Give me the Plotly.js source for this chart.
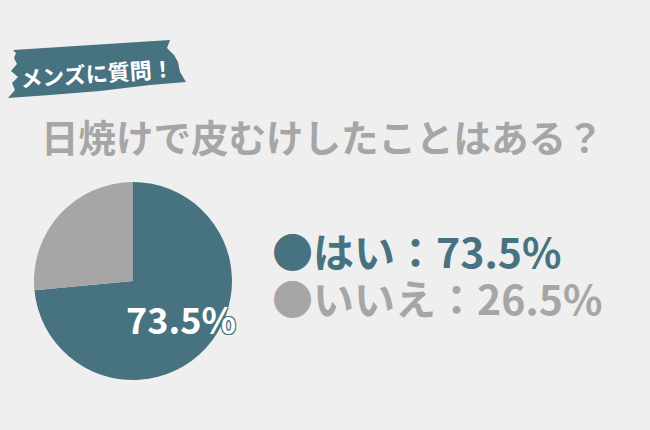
<!DOCTYPE html>
<html>
<head>
<meta charset="utf-8">
<script src="https://cdn.plot.ly/plotly-3.0.1.min.js"></script>
<style>
html,body{margin:0;padding:0;background:#efefef;}
#chart{width:650px;height:430px;}
</style>
</head>
<body>
<div id="chart"></div>
<script>
var labels = ['はい', 'いいえ'];
var values = [73.5, 26.5];
var colors = ['#477381', '#a6a6a6'];
var titleText = '日焼けで皮むけしたことはある？';
var bannerText = 'メンズに質問！';

var FONT = '"Noto Sans CJK JP", "Noto Sans", sans-serif';

function fmt(v) { return v.toFixed(1) + '%'; }

var trace = {
  type: 'pie',
  labels: labels,
  values: values,
  marker: { colors: colors, line: { width: 0 } },
  sort: false,
  direction: 'clockwise',
  rotation: 0,
  textinfo: 'none',
  hoverinfo: 'none',
  showlegend: false,
  domain: { x: [34/650, 232/650], y: [1 - 380/430, 1 - 182/430] }
};

var annotations = [
  {
    xref: 'x', yref: 'y', x: 322, y: 135,
    text: titleText, showarrow: false,
    font: { family: FONT, size: 37.5, color: '#a6a6a6', weight: 700 }
  },
  {
    xref: 'x', yref: 'y', x: 97, y: 72,
    text: bannerText, showarrow: false, textangle: -4,
    font: { family: FONT, size: 22, color: '#ffffff', weight: 700 }
  },
  {
    xref: 'x', yref: 'y', x: 181, y: 318,
    text: fmt(values[0]), showarrow: false,
    font: { family: FONT, size: 36, color: '#ffffff', weight: 700,
      shadow: '1px 1px 0 #477381, -1px -1px 0 #477381, 1px -1px 0 #477381, -1px 1px 0 #477381' }
  }
];

var legendY = [250, 297];
for (var i = 0; i < labels.length; i++) {
  annotations.push({
    xref: 'x', yref: 'y', x: 270, y: legendY[i], xanchor: 'left',
    text: '●' + labels[i] + '：' + fmt(values[i]), showarrow: false,
    font: { family: FONT, size: 41, color: colors[i], weight: 700 }
  });
}

var layout = {
  width: 650, height: 430,
  margin: { l: 0, r: 0, t: 0, b: 0 },
  paper_bgcolor: '#efefef',
  plot_bgcolor: 'rgba(0,0,0,0)',
  xaxis: { range: [0, 650], visible: false, fixedrange: true },
  yaxis: { range: [430, 0], visible: false, fixedrange: true },
  shapes: [{
    type: 'path', xref: 'x', yref: 'y', layer: 'below',
    path: 'M 13,50 L 170,40 L 167,48 L 174,55 L 178,62 L 180,72 L 186,82 L 150,85 L 100,91 L 50,95 L 8,98 L 15,90 L 12,83 L 18,77 L 11,71 L 17,64 L 14,58 L 16,53 Z',
    fillcolor: '#477381', line: { width: 0 }
  }],
  annotations: annotations
};

Plotly.newPlot('chart', [trace], layout, { staticPlot: true, displayModeBar: false });
</script>
</body>
</html>
